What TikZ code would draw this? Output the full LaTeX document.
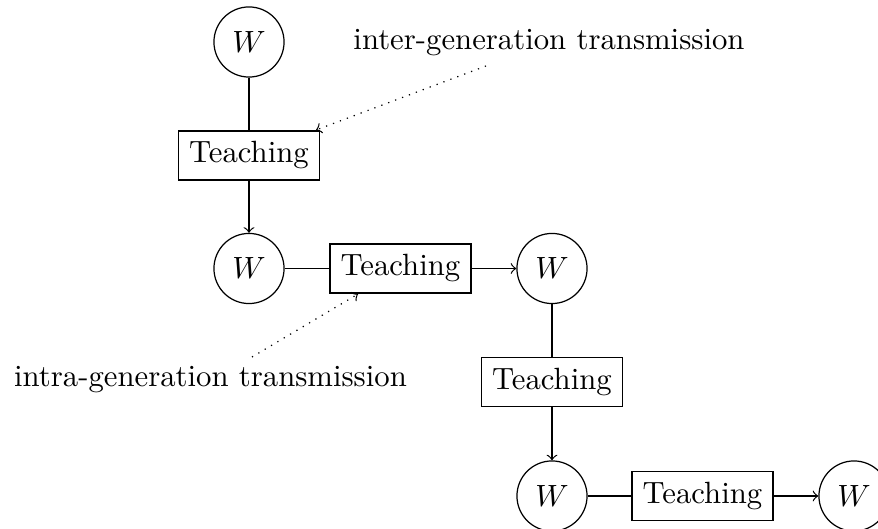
\documentclass[tikz,border=0pt]{standalone}
\usetikzlibrary{arrows}
\begin{document}
\begin{tikzpicture}[x=0.3253pt,y=-0.3253pt,
  wnode/.style={draw,circle,minimum size=22.8pt,inner sep=1pt},
  tbox/.style={draw,rectangle,inner sep=3.5pt},
  lbl/.style={inner sep=0pt},
  darr/.style={->,dotted}]
\useasboundingbox (0,0) rectangle (878,529);
\node[wnode] (w1) at (249,42) {$W$};
\node[tbox] (t1) at (249,155.5) {Teaching};
\node[wnode] (w2) at (249,268.5) {$W$};
\node[tbox] (t2) at (400.5,268.5) {Teaching};
\node[wnode] (w3) at (552,268.5) {$W$};
\node[tbox] (t3) at (552,382) {Teaching};
\node[wnode] (w4) at (552,496) {$W$};
\node[tbox] (t4) at (702.5,496) {Teaching};
\node[wnode] (w5) at (854,496) {$W$};
\node[lbl] (inter) at (549,43) {inter-generation transmission};
\node[lbl] (intra) at (210.5,380) {intra-generation transmission};
\coordinate (a1) at (486,66);
\coordinate (a1e) at (316,130);
\coordinate (a2) at (252,357);
\coordinate (a2e) at (358,294);
\draw (w1) -- (t1);
\draw[->] (t1) -- (w2);
\draw (w2) -- (t2);
\draw[->] (t2) -- (w3);
\draw (w3) -- (t3);
\draw[->] (t3) -- (w4);
\draw (w4) -- (t4);
\draw[->] (t4) -- (w5);
\draw[darr] (a1) -- (a1e);
\draw[darr] (a2) -- (a2e);
\end{tikzpicture}
\end{document}
